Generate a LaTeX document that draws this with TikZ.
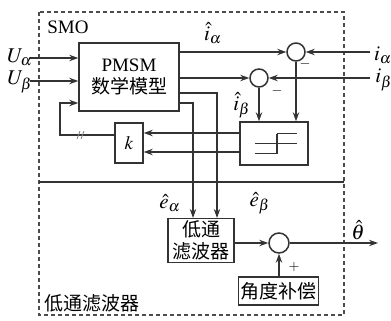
\documentclass[tikz,border=0pt]{standalone}
\usepackage{mathptmx}
\usepackage{fontspec}
\setmainfont{Liberation Serif}
\newfontfamily\cjk{Noto Sans CJK SC}
\usetikzlibrary{arrows.meta,positioning,calc}
\tikzset{
  >=Stealth,
  every picture/.append style={line width=0.75pt},
  every node/.append style={font=\fontsize{9.5}{11}\selectfont},
}

\begin{document}
\begin{tikzpicture}[
  x=0.5pt, y=-0.5pt,
  line/.style={draw=black!80, line width=0.75pt},
  arrow/.style={->, >={Stealth[length=4.5pt,width=3.2pt]}, draw=black!80, line width=0.75pt},
  block/.style={
    rectangle,
    draw=black!80,
    line width=0.75pt,
    align=center,
    inner sep=1pt
  },
  sumnode/.style={circle, draw=black!80, line width=0.75pt, minimum size=9pt, inner sep=0pt},
  frame/.style={draw=black!70, line width=0.7pt, dash pattern=on 2pt off 1.5pt},
  mlabel/.style={inner sep=0pt, font=\fontsize{10.5}{12}\selectfont},
  sign/.style={inner sep=0pt, font=\fontsize{7}{8}\selectfont}
]
\useasboundingbox (0,0) rectangle (391,321);

% --- Frame (SMO above, low-pass filter below) ---
\draw[frame] (39,12) rectangle (344,315);
\draw[line] (39,182) -- (344,182);
\node (smo) at (68,27) {SMO};
\node (lpftitle) at (92,303) {\cjk 低通滤波器};

% --- Blocks ---
\node[block, minimum width=50pt, minimum height=34pt] (pmsm) at (129,77) {PMSM\\{\cjk 数学模型}};
\node[block, minimum width=14pt, minimum height=20pt] (k) at (129,143) {$k$};
\node[block, minimum width=34pt, minimum height=21.5pt] (sw) at (274,143.5) {};
\node[block, minimum width=33pt, minimum height=20.5pt] (lpf) at (201,240.5) {{\cjk 低通}\\{\cjk 滤波器}};
\node[block, minimum width=39.5pt, minimum height=14pt] (comp) at (278.5,291) {\cjk 角度补偿};

\node[sumnode] (sa) at (296,52) {};
\node[sumnode] (sb) at (259,78) {};
\node[sumnode, minimum size=10pt] (sc) at (279,243) {};

% Step symbol of the switching function
\draw[line] ($(sw)+(3,-10)$) -- ($(sw)+(23,-10)$);
\draw[line] ($(sw)+(-19,0)$) -- ($(sw)+(23,0)$);
\draw[line] ($(sw)+(-19,10)$) -- ($(sw)+(3,10)$) -- ($(sw)+(3,-10)$);

% --- Inputs ---
\coordinate (ua) at (30,58);
\coordinate (ub) at (30,81);
\coordinate (ia) at (370,52);
\coordinate (ib) at (370,78);
\draw[arrow] (ua) -- (ua -| pmsm.west);
\draw[arrow] (ub) -- (ub -| pmsm.west);
\draw[arrow] (ia) -- (sa.east);
\draw[arrow] (ib) -- (sb.east);

% --- Estimated currents ---
\draw[arrow] (pmsm.east |- sa) -- (sa.west);
\draw[arrow] (pmsm.east |- sb) -- (sb.west);
\draw[arrow] (sa.south) -- (sa.south |- sw.north);
\draw[arrow] (sb.south) -- (sb.south |- sw.north);

% --- Switching function to gain and back ---
\coordinate (kin1) at (143,133);
\coordinate (kin2) at (143,152);
\draw[arrow] (sw.west |- kin1) -- (k.east |- kin1);
\draw[arrow] (sw.west |- kin2) -- (k.east |- kin2);

\coordinate (fb) at (60,135);
\coordinate (fbtop) at (60,103);
\draw[arrow] (k.west |- fb) -- (fb) -- (fbtop) -- (fbtop -| pmsm.west);
\draw[draw=black!50, line width=0.4pt] (77,139) -- (80,131) (81,139) -- (84,131);

% --- Back-EMF to low-pass filter ---
\coordinate (eb) at (217,93);
\coordinate (ea) at (193,103);
\draw[arrow] (pmsm.east |- eb) -- (eb) -- (eb |- lpf.north);
\draw[arrow] (pmsm.east |- ea) -- (ea) -- (ea |- lpf.north);

% --- Angle output ---
\coordinate (out) at (378,243);
\draw[arrow] (lpf.east |- sc) -- (sc.west);
\draw[arrow] (sc.east) -- (out);
\draw[arrow] (comp.north -| sc) -- (sc.south);

% --- Labels ---
\node[mlabel] (ualab) at (20,57) {$U_\alpha$};
\node[mlabel] (ublab) at (20,82) {$U_\beta$};
\node[mlabel] (ialab) at (383,55) {$i_\alpha$};
\node[mlabel] (iblab) at (384,80) {$i_\beta$};
\node[mlabel] (iahat) at (213,33) {$\hat{i}_\alpha$};
\node[mlabel] (ibhat) at (242,105) {$\hat{i}_\beta$};
\node[mlabel] (eahat) at (170,203) {$\hat{e}_\alpha$};
\node[mlabel] (ebhat) at (260,203) {$\hat{e}_\beta$};
\node[mlabel] (thhat) at (358,230) {$\hat{\theta}$};
\node[sign] (mina) at (305,64) {$-$};
\node[sign] (minb) at (277,91) {$-$};
\node[sign] (plus) at (294,267) {$+$};

\end{tikzpicture}
\end{document}
